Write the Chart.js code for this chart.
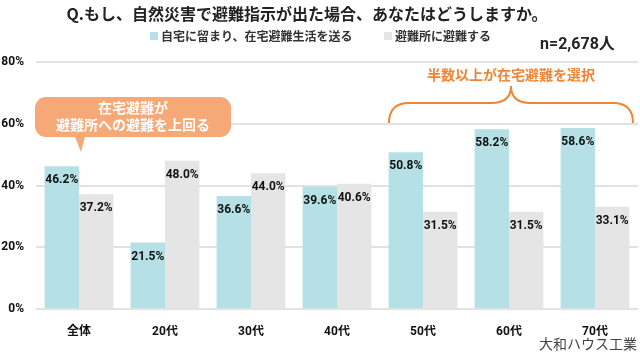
<!DOCTYPE html>
<html>
<head>
<meta charset="utf-8">
<script src="https://cdn.jsdelivr.net/npm/chart.js@4.4.1/dist/chart.umd.min.js"></script>
<style>
  html, body { margin: 0; padding: 0; background: #fff; }
  #wrap { width: 640px; height: 352px; }
</style>
</head>
<body>
<div id="wrap"><canvas id="chart" width="640" height="352"></canvas></div>
<script>
const categories = ['全体', '20代', '30代', '40代', '50代', '60代', '70代'];
const stayHome = [46.2, 21.5, 36.6, 39.6, 50.8, 58.2, 58.6];
const shelter = [37.2, 48.0, 44.0, 40.6, 31.5, 31.5, 33.1];
const seriesNames = ['自宅に留まり、在宅避難生活を送る', '避難所に避難する'];
const yTicks = [0, 20, 40, 60, 80];

const BLUE = '#b5e0e6';
const GRAY = '#e5e5e5';
const ORANGE = '#f08535';
const JP = "'Noto Sans CJK JP', sans-serif";
const NUM = "Roboto, 'Noto Sans CJK JP', sans-serif";

// titles, legend, value labels and the two notes
const overlay = {
  id: 'overlay',
  afterDatasetsDraw(chart) {
    const ctx = chart.ctx;
    const x = chart.scales.x;
    ctx.save();

    // value labels just under each bar top
    ctx.font = "bold 12px " + NUM;
    ctx.fillStyle = '#111';
    ctx.textAlign = 'center';
    ctx.textBaseline = 'middle';
    chart.data.datasets.forEach((ds, i) => {
      chart.getDatasetMeta(i).data.forEach((bar, j) => {
        ctx.fillText(ds.data[j].toFixed(1) + '%', bar.x, bar.y + 14);
      });
    });

    // title
    ctx.font = "bold 16px " + JP;
    ctx.fillStyle = '#222';
    ctx.fillText('Q.もし、自然災害で避難指示が出た場合、あなたはどうしますか。', 307, 14);

    // legend
    ctx.font = "bold 12px " + JP;
    ctx.textAlign = 'left';
    ctx.fillStyle = BLUE;
    ctx.fillRect(150, 32, 8, 8);
    ctx.fillStyle = GRAY;
    ctx.fillRect(384, 32, 8, 8);
    ctx.fillStyle = '#333';
    ctx.fillText(seriesNames[0], 161, 36);
    ctx.fillText(seriesNames[1], 395, 36);

    ctx.font = "bold 16px " + NUM;
    ctx.fillStyle = '#222';
    ctx.fillText('n=2,678人', 540, 45);

    // source
    ctx.font = "14px " + JP;
    ctx.fillStyle = '#444';
    ctx.textAlign = 'right';
    ctx.fillText('大和ハウス工業', 637, 344);

    // callout bubble
    const bx = 35, by = 97, bw = 196, bh = 40, r = 11;
    const tip = x.getPixelForValue(0);
    ctx.fillStyle = '#f6a877';
    ctx.beginPath();
    ctx.moveTo(bx + r, by);
    ctx.arcTo(bx + bw, by, bx + bw, by + bh, r);
    ctx.arcTo(bx + bw, by + bh, bx, by + bh, r);
    ctx.lineTo(tip + 6, by + bh);
    ctx.lineTo(tip + 2, by + bh + 15);
    ctx.lineTo(tip - 4, by + bh);
    ctx.arcTo(bx, by + bh, bx, by, r);
    ctx.arcTo(bx, by, bx + bw, by, r);
    ctx.closePath();
    ctx.fill();
    ctx.font = "bold 14px " + JP;
    ctx.fillStyle = '#fff';
    ctx.textAlign = 'center';
    ctx.fillText('在宅避難が', bx + bw / 2, 108);
    ctx.fillText('避難所への避難を上回る', bx + bw / 2, 125);

    // brace over 50代-70代
    const l = x.getPixelForValue(4) - 34, rt = x.getPixelForValue(6) + 38;
    const mid = (l + rt) / 2;
    ctx.strokeStyle = ORANGE;
    ctx.lineWidth = 2;
    ctx.beginPath();
    ctx.moveTo(l, 123);
    ctx.quadraticCurveTo(l, 103, l + 20, 103);
    ctx.lineTo(mid - 20, 103);
    ctx.quadraticCurveTo(mid, 103, mid, 86);
    ctx.quadraticCurveTo(mid, 103, mid + 20, 103);
    ctx.lineTo(rt - 20, 103);
    ctx.quadraticCurveTo(rt, 103, rt, 123);
    ctx.stroke();
    ctx.fillStyle = ORANGE;
    ctx.fillText('半数以上が在宅避難を選択', mid, 75);

    ctx.restore();
  }
};

new Chart(document.getElementById('chart'), {
  type: 'bar',
  data: {
    labels: categories,
    datasets: [
      { label: seriesNames[0], data: stayHome, backgroundColor: BLUE },
      { label: seriesNames[1], data: shelter, backgroundColor: GRAY }
    ]
  },
  options: {
    responsive: false,
    animation: false,
    events: [],
    categoryPercentage: 0.8,
    barPercentage: 1.0,
    layout: { padding: { top: 62, left: 0, right: 2, bottom: 0 } },
    plugins: {
      legend: { display: false },
      title: { display: false },
      tooltip: { enabled: false }
    },
    scales: {
      x: {
        grid: { display: false },
        border: { display: false },
        afterFit: (s) => { s.height = 43; },
        ticks: {
          padding: 8,
          color: '#111',
          font: { family: NUM, size: 12, weight: 'bold' }
        }
      },
      y: {
        min: yTicks[0],
        max: yTicks[yTicks.length - 1],
        afterFit: (s) => { s.width = 36; },
        afterBuildTicks: (s) => { s.ticks = yTicks.map(v => ({ value: v })); },
        border: { display: false },
        grid: { color: '#e2e2e2', lineWidth: 2, drawTicks: false },
        ticks: {
          padding: 12,
          color: '#111',
          font: { family: NUM, size: 12, weight: 'bold' },
          callback: (v) => v + '%'
        }
      }
    }
  },
  plugins: [overlay]
});
</script>
</body>
</html>
